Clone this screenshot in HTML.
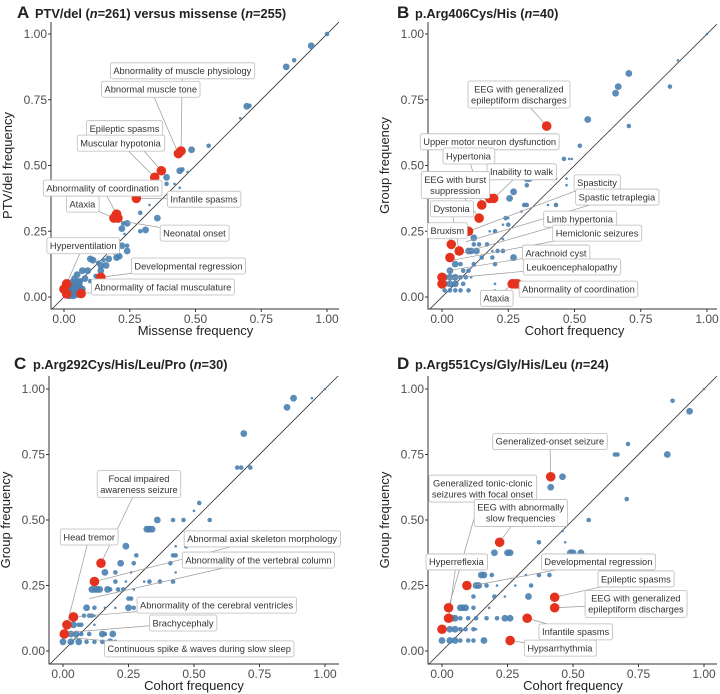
<!DOCTYPE html>
<html><head><meta charset="utf-8">
<style>
html,body{margin:0;padding:0;background:#fff;}
svg{display:block;font-family:"Liberation Sans",Arial,sans-serif;}
</style></head>
<body>
<svg id="fig" width="720" height="694" viewBox="0 0 720 694"></svg>
<script>
// ---------- DATA ----------
// points: [x, y, size] size: 1 tiny,2 small,3 medium,4 large
const aBlue=[[1,1,2],[0.94,0.955,3],[0.845,0.875,3],[0.875,0.9,2],[0.695,0.725,3],[0.705,0.727,2],[0.67,0.68,1],[0.55,0.575,2],[0.485,0.56,3],[0.44,0.48,3],[0.45,0.485,2],[0.47,0.475,1],[0.39,0.455,3],[0.39,0.43,2],[0.42,0.43,1],[0.44,0.415,1],[0.345,0.39,2],[0.325,0.35,1],[0.29,0.32,2],[0.355,0.3,3],[0.31,0.255,3],[0.29,0.25,2],[0.24,0.28,3],[0.225,0.28,2],[0.22,0.26,3],[0.23,0.24,1],[0.2,0.22,1],[0.19,0.215,1],[0.22,0.195,3],[0.24,0.195,2],[0.24,0.175,3],[0.2,0.15,3],[0.21,0.155,3],[0.19,0.17,2],[0.17,0.145,3],[0.15,0.14,2],[0.13,0.13,2],[0.1,0.145,3],[0.11,0.14,3],[0.14,0.12,3],[0.16,0.12,3],[0.14,0.1,3],[0.12,0.08,2],[0.13,0.075,3],[0.09,0.1,3],[0.07,0.1,3],[0.05,0.085,3],[0.08,0.07,3],[0.04,0.07,3],[0.06,0.06,3],[0.03,0.05,4],[0.05,0.05,4],[0.02,0.03,4],[0.03,0.02,4],[0.04,0.02,4],[0.05,0.015,4],[0.02,0.01,4],[0.06,0.04,3],[0.07,0.03,3],[0.1,0.06,2],[0.12,0.05,2],[0.03,0.035,4],[0.04,0.04,4],[0.025,0.015,4],[0.045,0.03,4],[0.035,0.01,4],[0.015,0.02,4],[0.055,0.03,4]];
const aRed=[[0.445,0.555],[0.435,0.545],[0.37,0.48],[0.345,0.455],[0.275,0.375],[0.2,0.315],[0.195,0.305],[0.19,0.3],[0.205,0.3],[0.14,0.075],[0.065,0.013],[0.01,0.05],[0,0.03],[0.01,0.012]];
const aLabels=[["Abnormality of muscle physiology",0.45,0.86,0.445,0.555],["Abnormal muscle tone",0.33,0.79,0.435,0.545],["Epileptic spasms",0.23,0.64,0.37,0.48],["Muscular hypotonia",0.215,0.585,0.345,0.455],["Abnormality of coordination",0.147,0.414,0.2,0.315],["Ataxia",0.07,0.353,0.19,0.3],["Infantile spasms",0.532,0.372,0.275,0.375],["Neonatal onset",0.496,0.243,0.21,0.29],["Hyperventilation",0.073,0.195,0.01,0.05],["Developmental regression",0.473,0.118,0.14,0.075],["Abnormality of facial musculature",0.376,0.038,0.065,0.013]];

const bBlue=[[1,1,1],[0.89,0.9,1],[0.705,0.85,3],[0.665,0.8,3],[0.655,0.775,3],[0.86,0.8,2],[0.705,0.65,2],[0.55,0.675,3],[0.52,0.575,2],[0.46,0.525,2],[0.48,0.525,1],[0.49,0.525,1],[0.32,0.45,3],[0.33,0.45,3],[0.42,0.45,1],[0.43,0.45,1],[0.47,0.45,1],[0.32,0.425,2],[0.47,0.425,1],[0.27,0.4,3],[0.255,0.375,3],[0.4,0.35,1],[0.43,0.35,2],[0.31,0.35,2],[0.32,0.35,2],[0.3,0.325,1],[0.24,0.3,2],[0.25,0.3,1],[0.25,0.275,2],[0.23,0.275,1],[0.2,0.25,2],[0.18,0.25,1],[0.23,0.22,1],[0.12,0.225,3],[0.12,0.2,2],[0.14,0.2,2],[0.17,0.2,2],[0.1,0.175,3],[0.11,0.175,3],[0.13,0.175,3],[0.19,0.175,1],[0.21,0.175,2],[0.23,0.175,2],[0.15,0.15,2],[0.27,0.15,3],[0.19,0.15,2],[0.05,0.125,3],[0.12,0.125,2],[0.2,0.125,2],[0.07,0.125,2],[0.03,0.1,3],[0.08,0.1,2],[0.1,0.1,2],[0.01,0.075,3],[0.03,0.075,3],[0.05,0.075,3],[0.07,0.075,2],[0.09,0.075,2],[0.11,0.075,1],[0.01,0.05,3],[0.03,0.05,3],[0.05,0.05,3],[0.08,0.05,2],[0.01,0.025,2],[0.03,0.025,2],[0.05,0.025,2],[0.07,0.025,2],[0.1,0.025,2],[0.2,0.025,1],[0.2,0.05,1]];
const bRed=[[0.395,0.65],[0.18,0.375],[0.195,0.375],[0.15,0.35],[0.14,0.3],[0.1,0.25],[0.035,0.2],[0.03,0.15],[0.065,0.175],[0,0.075],[0,0.05],[0.265,0.05],[0.275,0.05],[0.285,0.05]];
const bLabels=[["EEG with generalized\nepileptiform discharges",0.29,0.77,0.395,0.65],["Upper motor neuron dysfunction",0.18,0.59,0.18,0.375],["Hypertonia",0.1,0.536,0.15,0.35],["Inability to walk",0.3,0.476,0.195,0.375],["EEG with burst\nsuppression",0.05,0.426,0.14,0.3],["Dystonia",0.036,0.335,0.065,0.175],["Bruxism",0.02,0.252,0.035,0.2],["Spasticity",0.585,0.434,0.1,0.25],["Spastic tetraplegia",0.66,0.38,0.09,0.21],["Limb hypertonia",0.52,0.296,0.05,0.16],["Hemiclonic seizures",0.585,0.243,0.04,0.14],["Arachnoid cyst",0.43,0.167,0.02,0.1],["Leukoencephalopathy",0.49,0.114,0.01,0.07],["Abnormality of coordination",0.515,0.03,0.28,0.05],["Ataxia",0.205,-0.005,0.265,0.05]];

const cBlue=[[1,1,1],[0.95,0.965,1],[0.88,0.965,3],[0.855,0.93,3],[0.69,0.83,3],[0.665,0.7,2],[0.68,0.7,2],[0.715,0.7,2],[0.52,0.565,2],[0.5,0.535,1],[0.36,0.5,3],[0.42,0.5,2],[0.46,0.5,2],[0.56,0.5,2],[0.32,0.465,3],[0.33,0.465,3],[0.34,0.465,3],[0.24,0.4,3],[0.43,0.4,1],[0.47,0.4,2],[0.28,0.365,2],[0.42,0.365,2],[0.43,0.365,2],[0.48,0.365,3],[0.22,0.335,3],[0.27,0.335,2],[0.41,0.335,2],[0.16,0.3,3],[0.2,0.3,2],[0.26,0.3,1],[0.43,0.3,1],[0.2,0.265,2],[0.24,0.265,1],[0.31,0.265,1],[0.33,0.265,2],[0.37,0.265,2],[0.42,0.265,2],[0.11,0.235,3],[0.12,0.235,3],[0.13,0.235,3],[0.14,0.235,3],[0.17,0.235,3],[0.18,0.235,2],[0.21,0.235,2],[0.23,0.235,2],[0.27,0.235,1],[0.25,0.2,2],[0.26,0.2,2],[0.09,0.165,3],[0.12,0.165,2],[0.2,0.165,1],[0.25,0.165,3],[0.27,0.165,2],[0.16,0.165,1],[0.08,0.135,2],[0.1,0.135,2],[0.11,0.135,2],[0.12,0.135,1],[0.02,0.1,3],[0.04,0.1,3],[0.06,0.1,2],[0.07,0.1,2],[0.12,0.1,1],[0,0.065,3],[0.03,0.065,3],[0.05,0.065,3],[0.07,0.065,2],[0.1,0.065,2],[0.15,0.065,3],[0.16,0.065,2],[0.19,0.065,3],[0,0.035,3],[0.03,0.035,3],[0.06,0.035,3],[0.09,0.035,2],[0.12,0.035,2],[0.15,0.035,2],[0.18,0.035,3],[0.2,0.035,2]];
const cRed=[[0.145,0.335],[0.12,0.265],[0.04,0.13],[0.015,0.1],[0.005,0.065]];
const cLabels=[["Focal impaired\nawareness seizure",0.29,0.637,0.145,0.335],["Head tremor",0.1,0.435,0.015,0.1],["Abnormal axial skeleton morphology",0.76,0.428,0.12,0.265],["Abnormality of the vertebral column",0.746,0.347,0.1,0.2],["Abnormality of the cerebral ventricles",0.586,0.175,0.04,0.13],["Brachycephaly",0.458,0.107,0.01,0.07],["Continuous spike & waves during slow sleep",0.52,0.008,0.04,0.05]];

const dBlue=[[1,1,1],[0.88,0.955,2],[0.945,0.915,3],[0.71,0.79,2],[0.66,0.75,2],[0.67,0.75,2],[0.86,0.75,3],[0.46,0.665,3],[0.415,0.625,3],[0.705,0.58,2],[0.56,0.5,2],[0.46,0.458,1],[0.37,0.415,2],[0.47,0.415,1],[0.49,0.375,3],[0.5,0.375,3],[0.53,0.375,3],[0.2,0.375,3],[0.25,0.375,3],[0.26,0.375,3],[0.15,0.29,3],[0.16,0.29,3],[0.19,0.29,2],[0.32,0.29,1],[0.37,0.29,2],[0.41,0.29,2],[0.13,0.25,3],[0.14,0.25,3],[0.17,0.25,2],[0.21,0.25,1],[0.28,0.25,1],[0.34,0.25,2],[0.12,0.208,2],[0.2,0.208,2],[0.24,0.208,1],[0.33,0.208,3],[0.07,0.165,3],[0.08,0.165,3],[0.09,0.165,3],[0.12,0.165,2],[0.18,0.165,1],[0.04,0.125,3],[0.05,0.125,3],[0.07,0.125,2],[0.1,0.125,2],[0.13,0.125,2],[0.17,0.125,2],[0.21,0.125,2],[0.24,0.125,3],[0.26,0.125,3],[0,0.083,3],[0.03,0.083,3],[0.05,0.083,3],[0.07,0.083,2],[0.09,0.083,2],[0.12,0.083,2],[0.13,0.083,1],[0,0.04,3],[0.03,0.04,3],[0.05,0.04,3],[0.07,0.04,2],[0.1,0.04,2],[0.12,0.04,2],[0.16,0.04,3]];
const dRed=[[0.415,0.665],[0.22,0.415],[0.095,0.25],[0.025,0.165],[0.025,0.125],[0,0.083],[0.43,0.205],[0.43,0.165],[0.325,0.125],[0.26,0.04]];
const dLabels=[["Generalized-onset seizure",0.412,0.8,0.415,0.665],["Generalized tonic-clonic\nseizures with focal onset",0.155,0.62,0.025,0.165],["EEG with abnormally\nslow frequencies",0.3,0.527,0.22,0.415],["Hyperreflexia",0.055,0.34,0.025,0.125],["Developmental regression",0.597,0.34,0.12,0.25],["Epileptic spasms",0.74,0.275,0.43,0.205],["EEG with generalized\nepileptiform discharges",0.74,0.18,0.43,0.165],["Infantile spasms",0.51,0.073,0.325,0.125],["Hypsarrhythmia",0.45,0.011,0.26,0.04]];

const tickVals=[0,0.25,0.5,0.75,1];
const tickLabels=["0.00","0.25","0.50","0.75","1.00"];

// ---------- DRAW ----------
const NS="http://www.w3.org/2000/svg";
const svg=document.getElementById('fig');
function mk(tag,attrs,parent){const e=document.createElementNS(NS,tag);for(const k in attrs)e.setAttribute(k,attrs[k]);(parent||svg).appendChild(e);return e;}
const radius={1:1.3,2:2.3,3:3.4,4:4.8};

const panels=[
 {id:'a',letter:'A',title:'PTV/del (',n:'261',title2:') versus missense (',n2:'255',xt:'Missense frequency',yt:'PTV/del frequency',ax:51,x0:64,x1:327,y0:297,y1:34,top:22,bottom:309,right:339,lx:17,tx:35,ty:18,blue:aBlue,red:aRed,labels:aLabels},
 {id:'b',letter:'B',title:'p.Arg406Cys/His (',n:'40',title2:')',xt:'Cohort frequency',yt:'Group frequency',ax:428,x0:442,x1:707,y0:297,y1:34,top:22,bottom:309,right:717,lx:397,tx:415,ty:18,blue:bBlue,red:bRed,labels:bLabels},
 {id:'c',letter:'C',title:'p.Arg292Cys/His/Leu/Pro (',n:'30',title2:')',xt:'Cohort frequency',yt:'Group frequency',ax:49,x0:63,x1:325,y0:651,y1:389,top:376,bottom:664,right:339,lx:14,tx:33,ty:369,blue:cBlue,red:cRed,labels:cLabels},
 {id:'d',letter:'D',title:'p.Arg551Cys/Gly/His/Leu (',n:'24',title2:')',xt:'Cohort frequency',yt:'Group frequency',ax:428,x0:442,x1:704,y0:651,y1:389,top:376,bottom:664,right:717,lx:397,tx:415,ty:369,blue:dBlue,red:dRed,labels:dLabels}
];

panels.forEach(p=>{
  const g=mk('g',{});
  
  
  const sx=v=>p.x0+(p.x1-p.x0)*v;
  const sy=v=>p.y0-(p.y0-p.y1)*v;
  const t=mk('text',{x:p.lx,y:p.ty,'font-size':17,'font-weight':'bold',fill:'#222'},g);
  t.textContent=p.letter;
  
  
  const tt=mk('text',{x:p.tx,y:p.ty,'font-size':12.8,'font-weight':'bold',fill:'#222'},g);
  
  
  const s1=mk('tspan',{},tt);s1.textContent=p.title;
  const s2=mk('tspan',{'font-style':'italic'},tt);s2.textContent='n';
  const s3=mk('tspan',{},tt);s3.textContent='='+p.n+p.title2;
  if(p.n2){const s4=mk('tspan',{'font-style':'italic'},tt);s4.textContent='n';const s5=mk('tspan',{},tt);s5.textContent='='+p.n2+')';}
  const cp=mk('clipPath',{id:'clip-'+p.id},g);
  mk('rect',{x:p.ax,y:p.top,width:p.right-p.ax,height:p.bottom-p.top},cp);
  const vmin=(p.ax-p.x0)/(p.x1-p.x0), vmax=(p.right-p.x0)/(p.x1-p.x0);
  const dl=mk('line',{x1:sx(vmin),y1:sy(vmin),x2:sx(vmax),y2:sy(vmax),stroke:'#333','stroke-width':0.8,'clip-path':'url(#clip-'+p.id+')'},g);
  
  
  const axl=mk('path',{d:`M${p.ax},${p.top}V${p.bottom}H${p.right}`,stroke:'#333','stroke-width':1,fill:'none'},g);
  
  
  tickVals.forEach((v,i)=>{
    mk('line',{x1:sx(v),x2:sx(v),y1:p.bottom,y2:p.bottom+3,stroke:'#333'},g);
    const xl=mk('text',{x:sx(v),y:p.bottom+14,'font-size':12,'text-anchor':'middle',fill:'#4d4d4d'},g);
    xl.textContent=tickLabels[i];
    
    
    mk('line',{x1:p.ax-3,x2:p.ax,y1:sy(v),y2:sy(v),stroke:'#333'},g);
    const yl=mk('text',{x:p.ax-4,y:sy(v)+4,'font-size':12,'text-anchor':'end',fill:'#4d4d4d'},g);
    yl.textContent=tickLabels[i];
    
    
  });
  const xt=mk('text',{x:(p.x0+p.x1)/2,y:p.bottom+26,'font-size':13,'text-anchor':'middle',fill:'#222'},g);
  xt.textContent=p.xt;
  
  
  const yx=p.ax-39, yc=(p.top+p.bottom)/2;
  const yt=mk('text',{x:yx,y:yc,'font-size':13,'text-anchor':'middle',fill:'#222',transform:`rotate(-90 ${yx} ${yc})`},g);
  yt.textContent=p.yt;
  
  
  p.blue.forEach(d=>{
    const c=mk('circle',{cx:sx(d[0]),cy:sy(d[1]),r:radius[d[2]],fill:'#4a7fb0','fill-opacity':0.9},g);
    
    
  });
  p.labels.forEach(l=>{
    const ln=mk('line',{x1:sx(l[1]),y1:sy(l[2]),x2:sx(l[3]),y2:sy(l[4]),stroke:'#999','stroke-width':0.7},g);
    
    
  });
  p.red.forEach(d=>{
    const c=mk('circle',{cx:sx(d[0]),cy:sy(d[1]),r:4.8,fill:'#e5321f'},g);
    
    
  });
  p.labels.forEach(l=>{
    const lines=l[0].split('\n');
    const cx=sx(l[1]), cy=sy(l[2]);
    const lg=mk('g',{},g);
    
    
    const rect=mk('rect',{fill:'#fff',stroke:'#bbb','stroke-width':0.8,rx:2},lg);
    const txt=mk('text',{'font-size':9.3,'text-anchor':'middle',fill:'#333'},lg);
    const lh=11;
    lines.forEach((s,i)=>{
      const sp=mk('tspan',{x:cx,y:cy+3.3+(i-(lines.length-1)/2)*lh},txt);
      sp.textContent=s;
    });
    const bb=txt.getBBox();
    rect.setAttribute('x',bb.x-3);rect.setAttribute('y',cy-(lines.length*lh)/2-2.5);
    rect.setAttribute('width',bb.width+6);rect.setAttribute('height',lines.length*lh+5);
  });
});
</script>
</body></html>
